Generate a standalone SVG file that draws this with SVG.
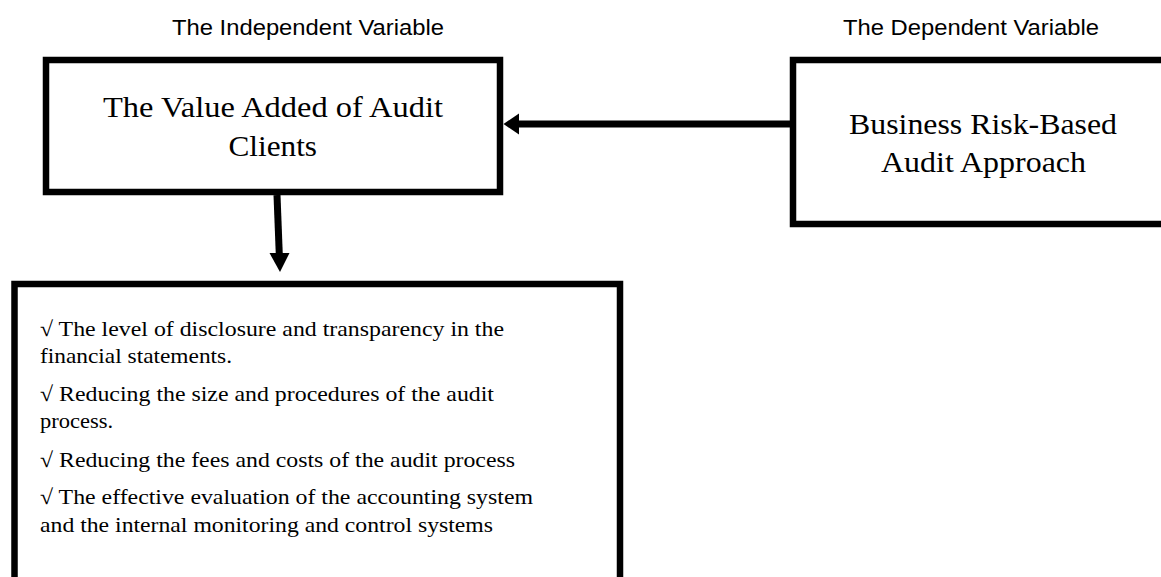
<svg xmlns="http://www.w3.org/2000/svg" width="1161" height="577" viewBox="0 0 1161 577">
<style>
.box{fill:#fff;stroke:#000;stroke-width:6.5}
.lbl{font-family:"Liberation Sans",Arial,sans-serif;font-size:22px;fill:#000}
.ttl{font-family:"Liberation Serif","Times New Roman",serif;font-size:29px;fill:#000}
.itm{font-family:"Liberation Serif","Times New Roman",serif;font-size:21.5px;fill:#000}
.conn{stroke:#000;stroke-width:7;fill:none}
</style>
<rect x="0" y="0" width="1161" height="577" fill="#fff"/>
<g id="label-independent"><text class="lbl" x="172" y="35" textLength="272" lengthAdjust="spacingAndGlyphs">The Independent Variable</text></g>
<g id="label-dependent"><text class="lbl" x="843" y="35" textLength="256" lengthAdjust="spacingAndGlyphs">The Dependent Variable</text></g>
<g id="node-value-added">
<rect class="box" x="46" y="60" width="454" height="132"/>
<text class="ttl" x="103" y="117" textLength="340" lengthAdjust="spacingAndGlyphs">The Value Added of Audit</text>
<text class="ttl" x="228.5" y="156" textLength="88.5" lengthAdjust="spacingAndGlyphs">Clients</text>
</g>
<g id="node-business-risk">
<rect class="box" x="793" y="60" width="400" height="164"/>
<text class="ttl" x="849" y="134" textLength="268" lengthAdjust="spacingAndGlyphs">Business Risk-Based</text>
<text class="ttl" x="881" y="172" textLength="205" lengthAdjust="spacingAndGlyphs">Audit Approach</text>
</g>
<g id="node-outcomes">
<rect class="box" x="14.5" y="284" width="605.5" height="330"/>
<text class="itm" x="40" y="336" textLength="464" lengthAdjust="spacingAndGlyphs">√ The level of disclosure and transparency in the</text>
<text class="itm" x="40" y="363" textLength="192" lengthAdjust="spacingAndGlyphs">financial statements.</text>
<text class="itm" x="40" y="401" textLength="454" lengthAdjust="spacingAndGlyphs">√ Reducing the size and procedures of the audit</text>
<text class="itm" x="40" y="428" textLength="73" lengthAdjust="spacingAndGlyphs">process.</text>
<text class="itm" x="40" y="467" textLength="475" lengthAdjust="spacingAndGlyphs">√ Reducing the fees and costs of the audit process</text>
<text class="itm" x="40" y="504" textLength="493" lengthAdjust="spacingAndGlyphs">√ The effective evaluation of the accounting system</text>
<text class="itm" x="40" y="532" textLength="453" lengthAdjust="spacingAndGlyphs">and the internal monitoring and control systems</text>
</g>
<g id="connectors">
<line class="conn" x1="790" y1="124" x2="517" y2="124"/>
<polygon points="503.5,124 519,113.5 519,134.5" fill="#000"/>
<line class="conn" x1="277" y1="195" x2="279.3" y2="255"/>
<polygon points="269.5,253 289.5,253 280,272" fill="#000"/>
</g>
</svg>
